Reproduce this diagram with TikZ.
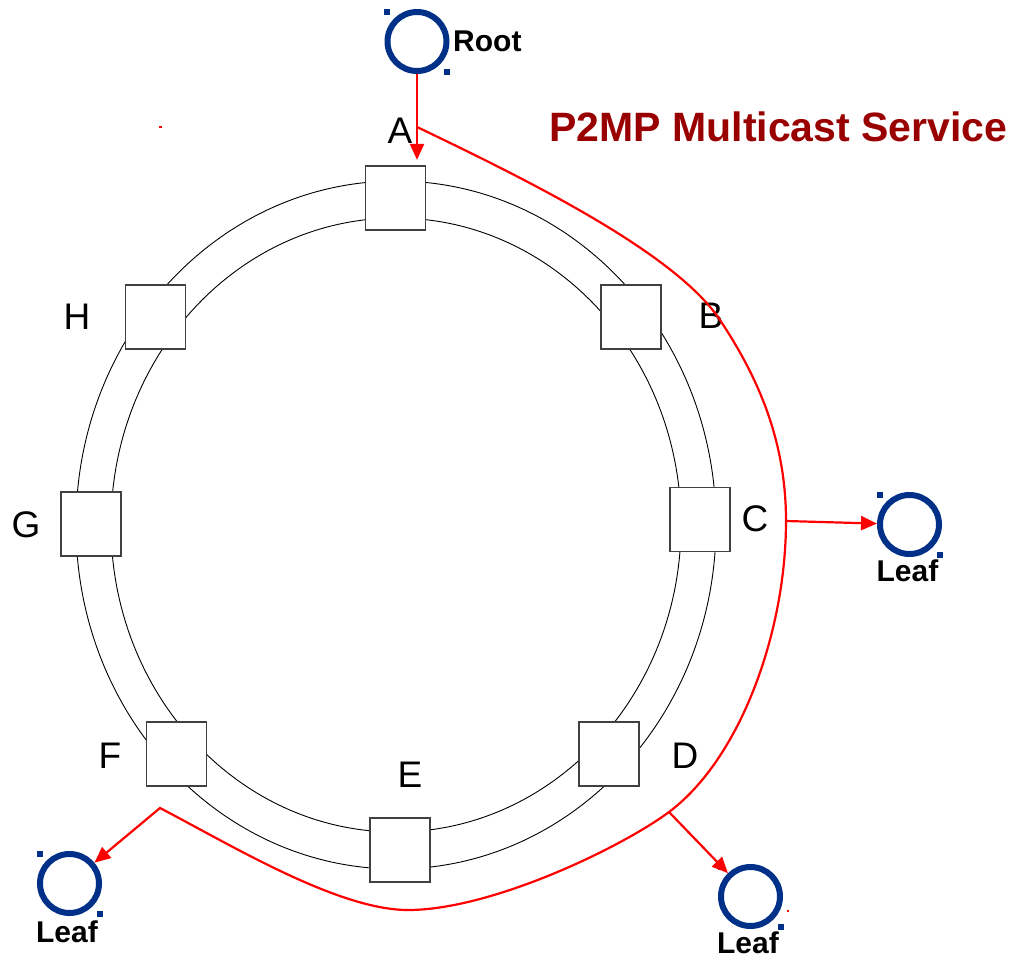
\documentclass[tikz,border=0pt]{standalone}
\usepackage{fontspec}
\setmainfont{Liberation Sans}
\usetikzlibrary{arrows.meta,calc}

\definecolor{navy}{RGB}{0,48,135}
\definecolor{darkred}{RGB}{153,0,0}

\tikzset{
  router/.style={draw=black!75, line width=1.2pt, fill=white, minimum width=60pt, minimum height=64pt, inner sep=0pt},
  lbl/.style={font=\fontsize{37}{40}\selectfont, inner sep=0pt},
  host/.style={circle, draw=navy, line width=6pt, minimum size=59pt, inner sep=0pt},
  hostname/.style={font=\fontsize{30}{32}\selectfont\bfseries, inner sep=0pt},
  route/.style={draw=red, line width=2.2pt},
  tip/.style={-{Triangle[length=16pt,width=14pt]}}
}

% two selection handles at the corners of a host circle
\newcommand{\handles}[1]{%
  \fill[navy] ($(#1.center)+(-33,-33)$) rectangle +(6,6);
  \fill[navy] ($(#1.center)+(27,27)$) rectangle +(6,6);
}

\begin{document}
\begin{tikzpicture}[x=1pt, y=-1pt]
\useasboundingbox (0,0) rectangle (1015,959);

% double ring
\draw[line width=0.9pt] (396,525) ellipse [x radius=320, y radius=344];
\draw[line width=0.9pt] (396,525) ellipse [x radius=285, y radius=307];

\node[router] (nA) at (395.5,198) {};
\node[router] (nB) at (631,317) {};
\node[router] (nC) at (700,519.5) {};
\node[router] (nD) at (609,754) {};
\node[router] (nE) at (400,850) {};
\node[router] (nF) at (176.5,754) {};
\node[router] (nG) at (91,524) {};
\node[router] (nH) at (155.5,317) {};

\node[lbl] (tA) at (400,131) {A};
\node[lbl] (tB) at (711,316) {B};
\node[lbl] (tC) at (755,519) {C};
\node[lbl] (tD) at (685,756) {D};
\node[lbl] (tE) at (410,775) {E};
\node[lbl] (tF) at (110,756) {F};
\node[lbl] (tG) at (26,525) {G};
\node[lbl] (tH) at (77,317) {H};

\node[font=\fontsize{41}{44}\selectfont\bfseries, text=darkred, inner sep=0pt] (title) at (778.5,126.5) {P2MP Multicast Service};

% root and leaves
\node[host] (root) at (417,41.5) {};
\node[hostname, anchor=west] (troot) at (453,41) {Root};
\node[host] (leafC) at (909.5,524.5) {};
\node[hostname] (tleafC) at (907.5,570.5) {Leaf};
\node[host] (leafF) at (69.5,883.5) {};
\node[hostname] (tleafF) at (67,932) {Leaf};
\node[host] (leafD) at (750.5,896.5) {};
\node[hostname] (tleafD) at (748,942.5) {Leaf};
\handles{root}
\handles{leafC}
\handles{leafF}
\handles{leafD}

% multicast tree
\coordinate (ra) at (417,127);
\coordinate (rb) at (720,320);
\coordinate (rc) at (786,521);
\coordinate (rd) at (669,812);
\coordinate (re) at (408,910);
\coordinate (rf) at (160,808);

\draw[route, tip, shorten >=5.5pt] (root.south) -- (root.south |- nA.north);
\draw[route, tip] (ra) .. controls (534,183) and (676,254) .. (rb)
  .. controls (758.5,378) and (786,441) .. (rc)
  .. controls (786,631) and (741,758) .. (rd)
  .. controls (622,847) and (492,910) .. (re)
  .. controls (338,910) and (231,845) .. (rf) -- (leafF);
\draw[route, tip] (rc) -- (leafC);
\draw[route, tip] (rd) -- (leafD);

\fill[red] (159,126) rectangle +(3,2);
\fill[red] (787,910) rectangle +(2,2);
\end{tikzpicture}
\end{document}
